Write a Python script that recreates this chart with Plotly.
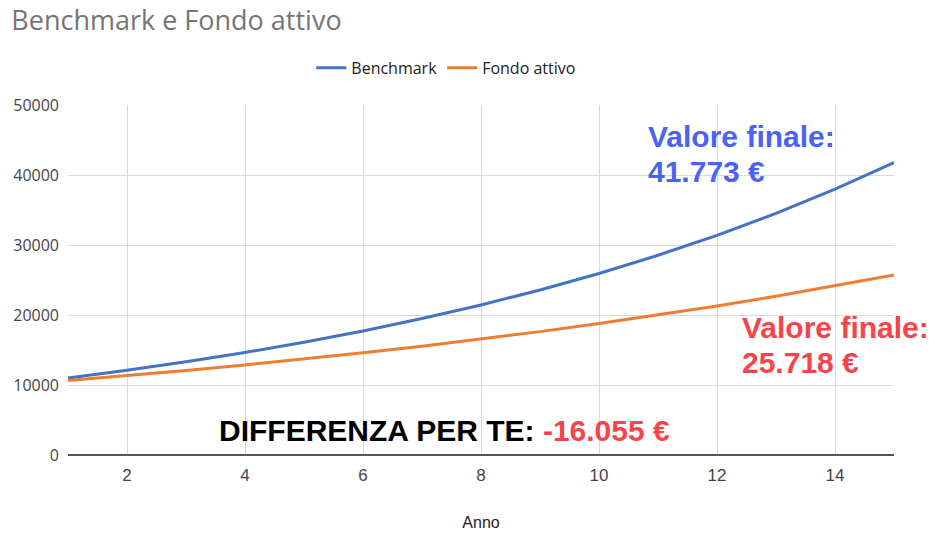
import plotly.graph_objects as go

anni = list(range(1, 16))
benchmark = [11000, 12100, 13310, 14641, 16105, 17716, 19487, 21436, 23579,
             25937, 28531, 31384, 34523, 37975, 41773]
fondo_attivo = [10650, 11342, 12080, 12865, 13701, 14591, 15540, 16550, 17626,
                18771, 19992, 21291, 22675, 24149, 25718]
x_ticks = [2, 4, 6, 8, 10, 12, 14]
y_ticks = [0, 10000, 20000, 30000, 40000, 50000]


def eur(v):
    return f"{v:,.0f}".replace(",", ".") + " €"


BLUE_TXT = "#4a63f3"
RED_TXT = "#f7434a"
ANN_FONT = "Liberation Sans, Arial, sans-serif"
ANN_SIZE = 30

fig = go.Figure()
fig.add_trace(go.Scatter(x=anni, y=benchmark, mode="lines", name="Benchmark",
                         line=dict(color="#4472c4", width=3)))
fig.add_trace(go.Scatter(x=anni, y=fondo_attivo, mode="lines", name="Fondo attivo",
                         line=dict(color="#ed7d31", width=3)))

fig.update_layout(
    width=941, height=538,
    margin=dict(l=68, r=47, t=105, b=83),
    paper_bgcolor="white", plot_bgcolor="white",
    title=dict(text="Benchmark e Fondo attivo", x=0.012, xanchor="left",
               y=0.961, yanchor="middle",
               font=dict(family="Open Sans, sans-serif", size=27, color="#757575")),
    legend=dict(orientation="h", x=0.458, xanchor="center", y=1.106, yanchor="middle",
                font=dict(family="Open Sans, sans-serif", size=16, color="#222222"),
                itemwidth=30),
    showlegend=True,
)
fig.update_xaxes(range=[1, 15], tickvals=x_ticks, showgrid=True, gridcolor="#d9d9d9",
                 gridwidth=1, zeroline=False, showline=False, ticks="",
                 ticklabelstandoff=8, automargin=False,
                 tickfont=dict(family="Liberation Sans Narrow, Arial Narrow, sans-serif",
                               size=17, color="#444444"),
                 title=dict(text="Anno", standoff=32,
                            font=dict(family="Liberation Sans Narrow, Arial Narrow, sans-serif",
                                      size=16, color="#222222")))
fig.update_yaxes(range=[0, 50000], tickvals=y_ticks, tickformat="d", showgrid=True,
                 gridcolor="#d9d9d9", gridwidth=1, zeroline=True,
                 zerolinecolor="#555555", zerolinewidth=2, automargin=False,
                 showline=False, ticks="", ticklabelstandoff=8,
                 tickfont=dict(family="Open Sans, sans-serif", size=16, color="#444444"))


def add_text(x, y, text, color):
    fig.add_annotation(xref="paper", yref="paper", x=x, y=y, xanchor="left",
                       yanchor="middle", align="left", showarrow=False,
                       text="<b>" + text + "</b>",
                       font=dict(family=ANN_FONT, size=ANN_SIZE, color=color))


add_text(0.700, 0.911, "Valore finale:", BLUE_TXT)
add_text(0.700, 0.811, eur(benchmark[-1]), BLUE_TXT)
add_text(0.814, 0.364, "Valore finale:", RED_TXT)
add_text(0.814, 0.264, eur(fondo_attivo[-1]), RED_TXT)
diff = fondo_attivo[-1] - benchmark[-1]
add_text(0.180, 0.071,
         "DIFFERENZA PER TE: <span style='color:" + RED_TXT + "'>-" + eur(abs(diff)) + "</span>",
         "#000000")

fig.write_html("out.html")
